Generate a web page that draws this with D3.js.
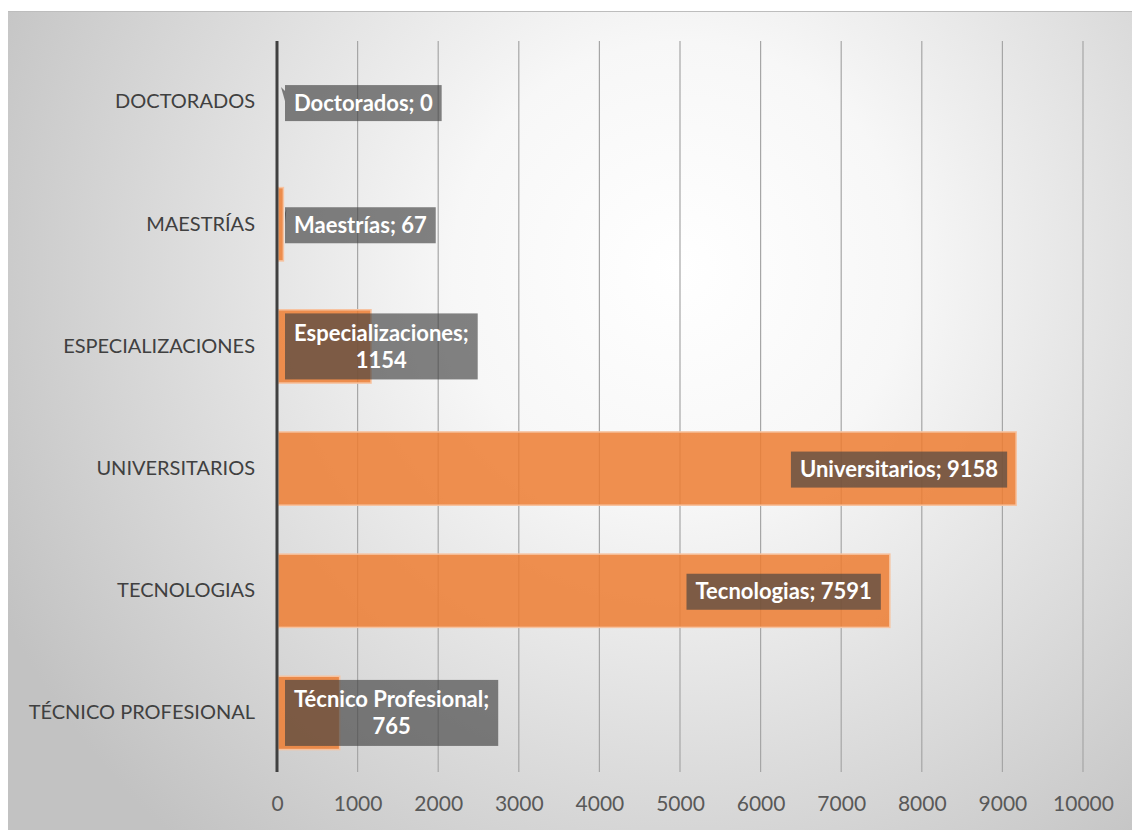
<!DOCTYPE html>
<html>
<head>
<meta charset="utf-8">
<script src="https://cdn.jsdelivr.net/npm/d3@7"></script>
<style>
  html, body { margin: 0; padding: 0; background: #ffffff; }
  svg { display: block; }
</style>
</head>
<body>
<svg id="chart" width="1132" height="830"></svg>
<script>
// Matrícula por nivel de formación
const categories = ["DOCTORADOS", "MAESTRÍAS", "ESPECIALIZACIONES", "UNIVERSITARIOS", "TECNOLOGIAS", "TÉCNICO PROFESIONAL"];
const labelNames = ["Doctorados", "Maestrías", "Especializaciones", "Universitarios", "Tecnologias", "Técnico Profesional"];
const values = [0, 67, 1154, 9158, 7591, 765];
const xTicks = [0, 1000, 2000, 3000, 4000, 5000, 6000, 7000, 8000, 9000, 10000];

const W = 1132, H = 830;
const frame = { x: 8, y: 12 };
const plot = { left: 277, right: 1083, top: 41, bottom: 774 };

const svg = d3.select("#chart");
const defs = svg.append("defs");

const grad = defs.append("radialGradient")
  .attr("id", "bg").attr("gradientUnits", "userSpaceOnUse")
  .attr("cx", 680).attr("cy", 270).attr("r", 760);
grad.append("stop").attr("offset", "0").attr("stop-color", "#ffffff");
grad.append("stop").attr("offset", "0.3").attr("stop-color", "#f7f7f7");
grad.append("stop").attr("offset", "1").attr("stop-color", "#c2c2c2");

// chart frame
svg.append("rect").attr("x", frame.x).attr("y", frame.y - 1)
  .attr("width", W - frame.x + 5).attr("height", H).attr("fill", "#bdbdbd");
svg.append("rect").attr("x", frame.x).attr("y", frame.y)
  .attr("width", W - frame.x + 5).attr("height", H)
  .attr("fill", "url(#bg)");

const x = d3.scaleLinear().domain([0, 10000]).range([plot.left, plot.right]);
const y = d3.scaleBand().domain(categories).range([plot.top, plot.bottom]).paddingInner(0.4).paddingOuter(0.2);

// vertical gridlines
svg.append("g").selectAll("line").data(xTicks.slice(1)).join("line")
  .attr("x1", d => x(d)).attr("x2", d => x(d))
  .attr("y1", plot.top).attr("y2", plot.bottom - 2)
  .attr("stroke", "#a6a6a6").attr("stroke-width", 1.2);

// x tick labels
const xAxis = d3.axisBottom(x).tickValues(xTicks).tickSize(0).tickFormat(d3.format("d"));
const gx = svg.append("g").attr("transform", `translate(0,${plot.bottom + 14})`).call(xAxis);
gx.select(".domain").remove();
gx.selectAll("text").attr("font-family", "Lato, 'Open Sans', sans-serif")
  .attr("font-size", 21).attr("fill", "#595959").attr("dy", "0.95em");

// category labels
const yAxis = d3.axisLeft(y).tickSize(0).tickPadding(22);
const gy = svg.append("g").attr("transform", `translate(${plot.left},0)`).call(yAxis);
gy.select(".domain").remove();
gy.selectAll("text").attr("font-family", "Lato, 'Open Sans', sans-serif")
  .attr("font-size", 20).attr("fill", "#404040");

// bars
const rows = categories.map((c, i) => ({ cat: c, name: labelNames[i], value: values[i] }));
svg.append("g").selectAll("rect").data(rows).join("rect")
  .attr("x", x(0) + 1)
  .attr("y", d => y(d.cat))
  .attr("width", d => Math.max(0, x(d.value) - x(0)))
  .attr("height", y.bandwidth())
  .attr("fill", "#ed7d31").attr("fill-opacity", 0.85)
  .attr("stroke", "#f7c3a0").attr("stroke-width", d => d.value > 0 ? 1.5 : 0);

// value axis line
svg.append("line")
  .attr("x1", x(0)).attr("x2", x(0))
  .attr("y1", plot.top).attr("y2", plot.bottom - 2)
  .attr("stroke", "#404040").attr("stroke-width", 3);

// data labels
const lblFont = "Lato, 'Open Sans', sans-serif";
const lblSize = 22;
const measure = svg.append("text").attr("font-family", lblFont).attr("font-size", lblSize).attr("font-weight", "bold").attr("visibility", "hidden");
function textW(s) { measure.text(s); return measure.node().getComputedTextLength(); }

const labels = svg.append("g");
rows.forEach(d => {
  const full = `${d.name}; ${d.value}`;
  const cy = y(d.cat) + y.bandwidth() / 2;
  const barW = x(d.value) - x(0);
  const padX = 9, lineH = 27;
  let lines = [full];
  const inside = barW > textW(full) + 40;
  if (!inside && textW(full) > 190) lines = [`${d.name};`, `${d.value}`];
  const boxW = d3.max(lines, textW) + padX * 2;
  const boxH = lines.length === 1 ? 36 : 66;
  const bx = inside ? x(d.value) - 8 - boxW : x(0) + 8;
  const by = cy - boxH / 2 + (lines.length === 1 ? 1 : 0);
  const g = labels.append("g");
  if (!inside && barW < 20) {
    // callout pointer toward the bar end
    g.append("path")
      .attr("d", `M${bx},${by + 6} L${x(d.value) + 4},${by + 2} L${bx},${by + 16} Z`)
      .attr("fill", "#404040").attr("fill-opacity", 0.65);
  }
  g.append("rect").attr("x", bx).attr("y", by).attr("width", boxW).attr("height", boxH)
    .attr("fill", "#404040").attr("fill-opacity", 0.65);
  lines.forEach((s, i) => {
    g.append("text")
      .attr("x", bx + boxW / 2)
      .attr("y", by + boxH / 2 + (i - (lines.length - 1) / 2) * lineH)
      .attr("dy", "0.35em").attr("text-anchor", "middle")
      .attr("font-family", lblFont).attr("font-size", lblSize).attr("font-weight", "bold")
      .attr("fill", "#ffffff").text(s);
  });
});
measure.remove();
</script>
</body>
</html>
